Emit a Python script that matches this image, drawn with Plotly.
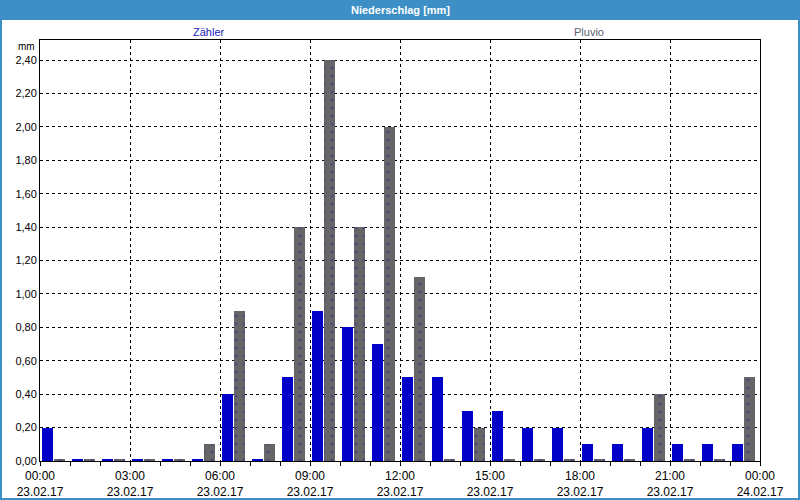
import plotly.graph_objects as go

hours = list(range(24))
zaehler = [0.20, 0.01, 0.01, 0.01, 0.01, 0.01, 0.40, 0.01, 0.50, 0.90, 0.80, 0.70,
           0.50, 0.50, 0.30, 0.30, 0.20, 0.20, 0.10, 0.10, 0.20, 0.10, 0.10, 0.10]
pluvio = [0.01, 0.01, 0.01, 0.01, 0.01, 0.10, 0.90, 0.10, 1.40, 2.40, 1.40, 2.00,
          1.10, 0.01, 0.20, 0.01, 0.01, 0.01, 0.01, 0.01, 0.40, 0.01, 0.01, 0.50]
tick_hours = [0, 3, 6, 9, 12, 15, 18, 21, 24]
tick_text = ["00:00<br>23.02.17", "03:00<br>23.02.17", "06:00<br>23.02.17",
             "09:00<br>23.02.17", "12:00<br>23.02.17", "15:00<br>23.02.17",
             "18:00<br>23.02.17", "21:00<br>23.02.17", "00:00<br>24.02.17"]
y_ticks = [0.0, 0.2, 0.4, 0.6, 0.8, 1.0, 1.2, 1.4, 1.6, 1.8, 2.0, 2.2, 2.4]

W, H = 800, 500
ML, MR, MT, MB = 40, 40, 40, 39
pw, ph = W - ML - MR, H - MT - MB

def px(x):
    return (x - ML) / pw

def py(y):
    return 1 - (y - MT) / ph

FONT = "Liberation Sans"
BLUE_FRAME = "#3d8fc6"

fig = go.Figure()
fig.add_trace(go.Bar(x=hours, y=zaehler, name="Zähler", width=0.37, offset=0.06,
                     marker=dict(color="#0000c8", line=dict(width=0))))
fig.add_trace(go.Bar(x=hours, y=pluvio, name="Pluvio", width=0.37, offset=0.47,
                     marker=dict(color="#666568", line=dict(width=0),
                                 pattern=dict(shape=".", fgcolor="#34348a", bgcolor="#666568",
                                              size=8, solidity=0.12))))

shapes = [
    dict(type="rect", xref="paper", yref="paper", x0=px(0), x1=px(W), y0=py(20), y1=py(0),
         fillcolor=BLUE_FRAME, line=dict(width=0), layer="below"),
    dict(type="rect", xref="paper", yref="paper", x0=px(0), x1=px(2), y0=py(H), y1=py(0),
         fillcolor=BLUE_FRAME, line=dict(width=0), layer="below"),
    dict(type="rect", xref="paper", yref="paper", x0=px(W - 2), x1=px(W), y0=py(H), y1=py(0),
         fillcolor=BLUE_FRAME, line=dict(width=0), layer="below"),
    dict(type="rect", xref="paper", yref="paper", x0=px(0), x1=px(W), y0=py(H), y1=py(H - 2),
         fillcolor=BLUE_FRAME, line=dict(width=0), layer="below"),
]

annotations = [
    dict(text="<b>Niederschlag [mm]</b>", xref="paper", yref="paper", x=px(400), y=py(10),
         showarrow=False, font=dict(family=FONT, size=11, color="white"),
         xanchor="center", yanchor="middle"),
    dict(text="Zähler", xref="paper", yref="paper", x=px(209), y=py(32),
         showarrow=False, font=dict(family=FONT, size=11, color="#2020c0"),
         xanchor="center", yanchor="middle"),
    dict(text="Pluvio", xref="paper", yref="paper", x=px(589), y=py(32),
         showarrow=False, font=dict(family=FONT, size=11, color="#606070"),
         xanchor="center", yanchor="middle"),
    dict(text="mm", xref="paper", yref="paper", x=px(37), y=py(46),
         showarrow=False, font=dict(family=FONT, size=10, color="black"),
         xanchor="right", yanchor="middle"),
]

fig.update_layout(
    width=W, height=H,
    margin=dict(l=ML, r=MR, t=MT, b=MB, pad=0, autoexpand=False),
    paper_bgcolor="white", plot_bgcolor="white",
    barmode="overlay", bargap=0,
    showlegend=False,
    separators=",.",
    font=dict(family=FONT, size=11, color="black"),
    shapes=shapes, annotations=annotations,
)
fig.update_xaxes(range=[0, 24], tickvals=tick_hours, ticktext=tick_text, automargin=False,
                 showgrid=True, gridcolor="black", griddash="3px,3px", gridwidth=1,
                 showline=True, linecolor="black", linewidth=1, mirror=True,
                 ticks="outside", ticklen=4, tickcolor="black", ticklabelstandoff=0,
                 minor=dict(dtick=1, tick0=0, ticks="outside", ticklen=4, tickcolor="black", showgrid=False),
                 tickfont=dict(family=FONT, size=12), zeroline=False, fixedrange=True)
fig.update_yaxes(range=[0, 2.52], tickvals=y_ticks, tickformat=".2f", automargin=False,
                 showgrid=True, gridcolor="black", griddash="3px,3px", gridwidth=1,
                 showline=True, linecolor="black", linewidth=1, mirror=True,
                 ticks="", ticklen=2, tickfont=dict(family=FONT, size=11),
                 zeroline=False, fixedrange=True)

fig.write_html("out.html", config={"displayModeBar": False},
               post_script="document.body.style.margin='0';document.body.style.padding='0';")
